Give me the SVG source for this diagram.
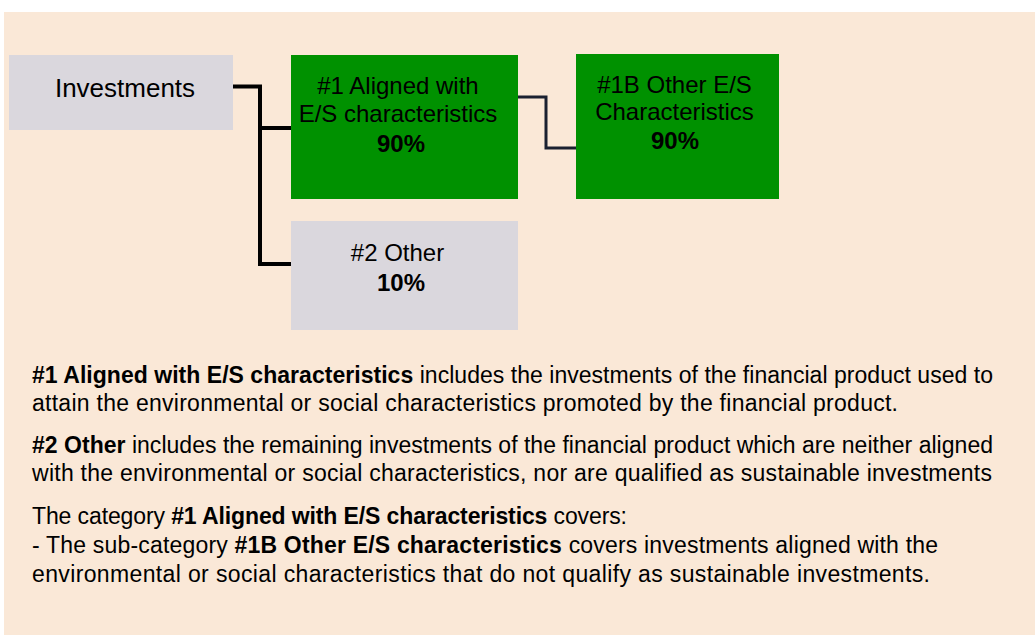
<svg xmlns="http://www.w3.org/2000/svg" width="1035" height="637" viewBox="0 0 1035 637">
<style>
text{font-family:"Liberation Sans",Arial,sans-serif;fill:#000}
.n{font-size:24px;text-anchor:middle}
.b{font-weight:bold}
.body{font-size:23px}
.gray{fill:#DAD7DD}
.green{fill:#009100}
.conn{fill:none;stroke:#000;stroke-width:4}
</style>
<rect x="4" y="12" width="1031" height="623" fill="#FAE8D7"/>
<g id="connectors">
<path class="conn" d="M231,86.5 H260 V264 H291 M260,128 H291"/>
<path class="conn" style="stroke:#1a2030;stroke-width:3" d="M518,97 H546 V148 H576"/>
</g>
<g id="investments">
<rect class="gray" x="9" y="55" width="224" height="75"/>
<text class="n" x="125" y="97" style="font-size:26px">Investments</text>
</g>
<g id="aligned">
<rect class="green" x="291" y="55" width="227" height="144"/>
<text class="n" x="398" y="94">#1 Aligned with</text>
<text class="n" x="398" y="122">E/S characteristics</text>
<text class="n b" x="401" y="152">90%</text>
</g>
<g id="other1b">
<rect class="green" x="576" y="54" width="203" height="145"/>
<text class="n" x="674.5" y="93">#1B Other E/S</text>
<text class="n" x="674.5" y="120">Characteristics</text>
<text class="n b" x="675" y="149">90%</text>
</g>
<g id="other2">
<rect class="gray" x="291" y="221" width="227" height="109"/>
<text class="n" x="397.5" y="261">#2 Other</text>
<text class="n b" x="401" y="291">10%</text>
</g>
<g id="legend">
<text class="body" x="32" y="383" textLength="961"><tspan class="b">#1 Aligned with E/S characteristics</tspan> includes the investments of the financial product used to</text>
<text class="body" x="32" y="411" textLength="866">attain the environmental or social characteristics promoted by the financial product.</text>
<text class="body" x="32" y="453" textLength="961"><tspan class="b">#2 Other</tspan> includes the remaining investments of the financial product which are neither aligned</text>
<text class="body" x="32" y="481" textLength="960">with the environmental or social characteristics, nor are qualified as sustainable investments</text>
<text class="body" x="32" y="524" textLength="595">The category <tspan class="b">#1 Aligned with E/S characteristics</tspan> covers:</text>
<text class="body" x="32" y="553" textLength="906">- The sub-category <tspan class="b">#1B Other E/S characteristics</tspan> covers investments aligned with the</text>
<text class="body" x="32" y="582" textLength="898">environmental or social characteristics that do not qualify as sustainable investments.</text>
</g>
</svg>
